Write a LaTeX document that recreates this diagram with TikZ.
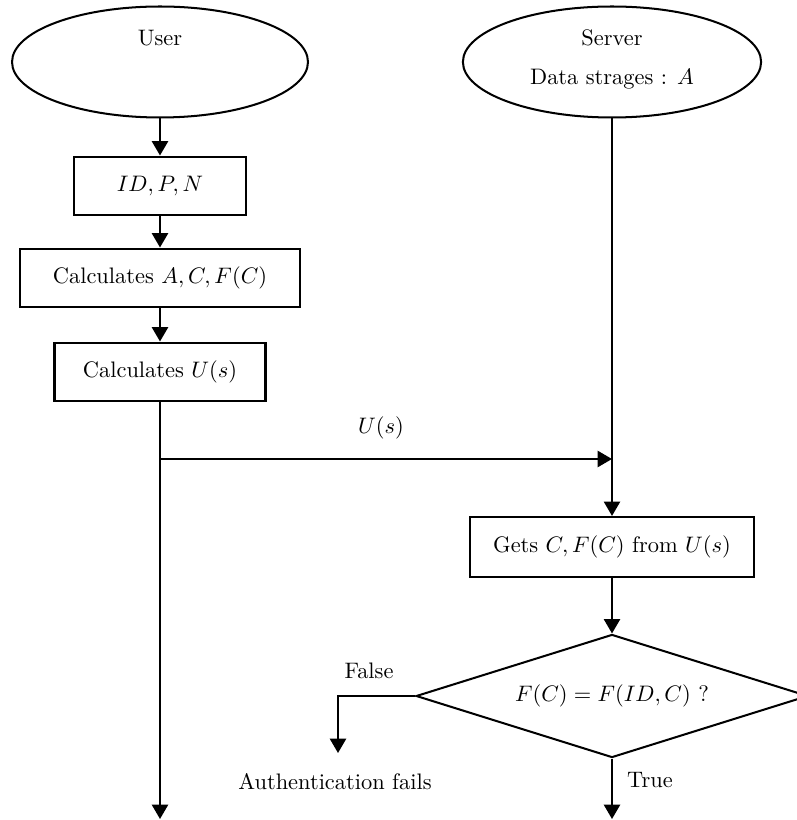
\documentclass[tikz,border=0pt]{standalone}
\usetikzlibrary{shapes.geometric,arrows.meta}
\begin{document}
\begin{tikzpicture}[x=0.446pt,y=-0.446pt,
  line width=0.9pt,
  arr/.style={-{Triangle[width=7.2pt,length=6.4pt]}},
  oval/.style={draw,ellipse,inner sep=0pt,minimum height=49.5pt},
  procbox/.style={draw,rectangle,inner sep=0pt,minimum height=26.3pt},
  decision/.style={draw,diamond,inner sep=0pt,aspect=3.19,minimum width=174.8pt,minimum height=54.9pt},
  txt/.style={inner sep=0pt,anchor=base}]
  \useasboundingbox (0,0) rectangle (796,820);

  % start/end ovals
  \node[oval,minimum width=132pt] (user) at (160,62) {};
  \node[txt] (usertxt) at (160,46) {User};
  \node[oval,minimum width=133pt] (server) at (612,62) {};
  \node[txt] (servertxt) at (612,46) {Server};
  \node[txt] (datatxt) at (612,85) {Data strages : $A$};

  % user side steps
  \node[procbox,minimum width=76.7pt] (b1) at (160,186) {$ID,P,N$};
  \node[procbox,minimum width=124.9pt] (b2) at (160,278) {Calculates $A,C,F(C)$};
  \node[procbox,minimum width=94.1pt] (b3) at (160,372) {Calculates $U(s)$};

  % server side steps
  \node[procbox,minimum width=126.7pt,minimum height=26.8pt] (b4) at (612,547) {Gets $C,F(C)$ from $U(s)$};
  \node[decision] (dia) at (612,696) {$F(C)=F(ID,C)$ ?};

  % free ends of connectors
  \coordinate (split) at (160,459);
  \coordinate (join) at (612,459);
  \coordinate (userend) at (160,819);
  \coordinate (trueend) at (612,819);
  \coordinate (falseend) at (338,753);

  % connectors
  \draw[arr] (user) -- (b1);
  \draw[arr] (b1) -- (b2);
  \draw[arr] (b2) -- (b3);
  \draw[arr] (b3) -- (userend);
  \draw[arr] (split) -- (join);
  \draw[arr] (server) -- (b4);
  \draw[arr] (b4) -- (dia);
  \draw[arr] (dia.west) -| (falseend);
  \draw[arr] (dia.south) -- (trueend);

  % labels
  \node[txt] (ustxt) at (381,433) {$U(s)$};
  \node[txt] (falsetxt) at (369,678) {False};
  \node[txt] (truetxt) at (650,787) {True};
  \node[txt] (failtxt) at (335,789) {Authentication fails};
\end{tikzpicture}
\end{document}
